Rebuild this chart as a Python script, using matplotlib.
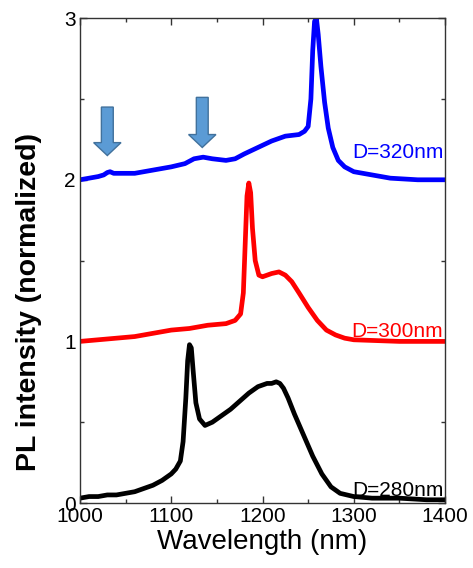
import numpy as np
import matplotlib.pyplot as plt
from matplotlib.patches import FancyArrow
from matplotlib.ticker import MultipleLocator

plt.rcParams["font.family"] = ["Liberation Sans", "DejaVu Sans"]

# ---- data ----
wl_280 = [1000, 1010, 1020, 1030, 1040, 1050, 1060, 1070, 1080, 1090, 1100, 1105,
          1110, 1113, 1116, 1118, 1120, 1122, 1124, 1127, 1131, 1137, 1145, 1155,
          1165, 1175, 1185, 1195, 1200, 1205, 1210, 1215, 1219, 1223, 1228, 1235,
          1245, 1255, 1265, 1275, 1285, 1300, 1320, 1350, 1380, 1400]
pl_280 = [0.03, 0.04, 0.04, 0.05, 0.05, 0.06, 0.07, 0.09, 0.11, 0.14, 0.18, 0.21,
          0.26, 0.38, 0.65, 0.88, 0.98, 0.96, 0.82, 0.62, 0.52, 0.48, 0.50, 0.54,
          0.58, 0.63, 0.68, 0.72, 0.73, 0.74, 0.74, 0.75, 0.74, 0.71, 0.65, 0.55,
          0.42, 0.29, 0.18, 0.10, 0.06, 0.04, 0.03, 0.03, 0.02, 0.02]

wl_300 = [1000, 1020, 1040, 1060, 1080, 1100, 1120, 1140, 1160, 1170, 1176, 1179,
          1181, 1183, 1185, 1187, 1189, 1192, 1196, 1200, 1205, 1210, 1218, 1225,
          1232, 1240, 1250, 1260, 1270, 1280, 1290, 1300, 1350, 1400]
pl_300 = [1.00, 1.01, 1.02, 1.03, 1.05, 1.07, 1.08, 1.10, 1.11, 1.13, 1.17, 1.30,
          1.60, 1.90, 1.98, 1.92, 1.70, 1.50, 1.41, 1.40, 1.41, 1.42, 1.43, 1.41,
          1.37, 1.30, 1.21, 1.13, 1.07, 1.04, 1.02, 1.01, 1.00, 1.00]

wl_320 = [1000, 1010, 1020, 1026, 1030, 1033, 1037, 1045, 1060, 1080, 1100, 1115,
          1125, 1135, 1145, 1160, 1170, 1180, 1195, 1210, 1225, 1240, 1246, 1250,
          1253, 1255, 1257, 1259, 1261, 1264, 1268, 1272, 1277, 1283, 1290, 1300,
          1320, 1340, 1370, 1400]
pl_320 = [2.00, 2.01, 2.02, 2.03, 2.045, 2.05, 2.04, 2.04, 2.04, 2.06, 2.08, 2.10,
          2.13, 2.14, 2.13, 2.12, 2.13, 2.16, 2.20, 2.24, 2.27, 2.28, 2.30, 2.33,
          2.50, 2.80, 2.98, 3.00, 2.90, 2.70, 2.48, 2.32, 2.20, 2.12, 2.08, 2.05,
          2.03, 2.01, 2.00, 2.00]

labels = ["D=280nm", "D=300nm", "D=320nm"]
label_y = [0.08, 1.06, 2.17]
colors = ["black", "#ff0000", "#0000ff"]

# arrows marking features on D=320nm
arrow_x = [1030, 1134]
arrow_top = [2.45, 2.51]
arrow_tip = [2.15, 2.20]

# ---- plot ----
fig = plt.figure(figsize=(4.73, 5.68), dpi=100)
ax = fig.add_axes([0.169, 0.1144, 0.772, 0.8536])

series = [(wl_280, pl_280), (wl_300, pl_300), (wl_320, pl_320)]
for (w, p), c, lab, ly in zip(series, colors, labels, label_y):
    ax.plot(w, p, color=c, lw=3.4, solid_joinstyle="round")
    ax.text(1398, ly, lab, color=c, fontsize=15, ha="right", va="center")

for xa, yt, yb in zip(arrow_x, arrow_top, arrow_tip):
    ax.add_patch(FancyArrow(xa, yt, 0, yb - yt, width=13, head_width=30,
                            head_length=0.08, length_includes_head=True,
                            facecolor="#5b9bd5", edgecolor="#41719c", lw=1,
                            zorder=5))

ax.set_xlim(1000, 1400)
ax.set_ylim(0, 3)
ax.xaxis.set_major_locator(MultipleLocator(100))
ax.xaxis.set_minor_locator(MultipleLocator(50))
ax.yaxis.set_major_locator(MultipleLocator(1))
ax.yaxis.set_minor_locator(MultipleLocator(0.5))
ax.tick_params(which="both", direction="in", top=True, right=True,
               labelsize=15, color="#333333", width=1)
ax.tick_params(which="major", length=5, pad=3)
ax.tick_params(which="minor", length=3)
for s in ax.spines.values():
    s.set_color("#333333")
    s.set_linewidth(1)

ax.set_xlabel("Wavelength (nm)", fontsize=20, labelpad=2)
ax.set_ylabel("PL intensity (normalized)", fontsize=20.5, fontweight="bold")
ax.yaxis.set_label_coords(-0.105, 0.415)

fig.savefig("out.png", dpi=100)
